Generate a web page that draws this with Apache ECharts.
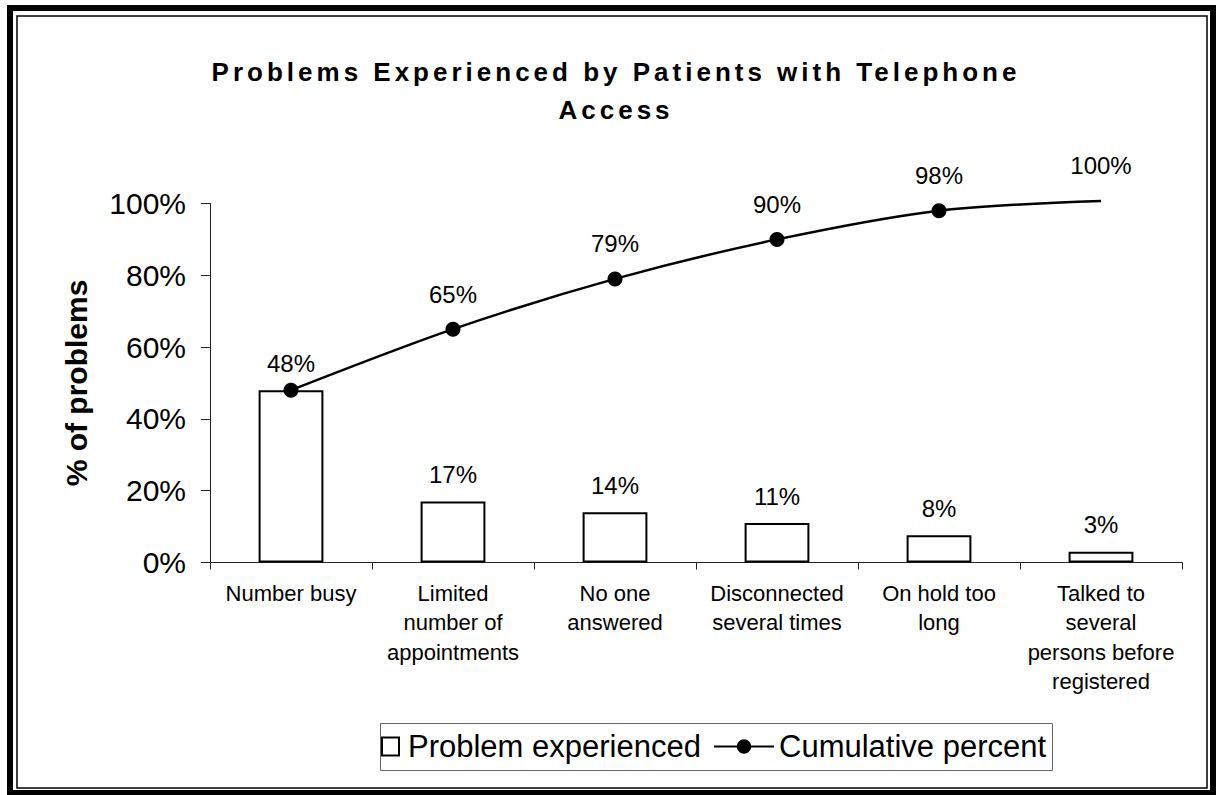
<!DOCTYPE html>
<html>
<head>
<meta charset="utf-8">
<script src="https://cdn.jsdelivr.net/npm/echarts@6/dist/echarts.min.js"></script>
<style>
html,body{margin:0;padding:0;background:#fff;}
#chart{width:1217px;height:795px;}
</style>
</head>
<body>
<div id="chart"></div>
<script>
const titleLines = ['Problems Experienced by Patients with Telephone', 'Access'];
const categories = ['Number busy', 'Limited\nnumber of\nappointments', 'No one\nanswered', 'Disconnected\nseveral times', 'On hold too\nlong', 'Talked to\nseveral\npersons before\nregistered'];
const problemValues = [48, 17, 14, 11, 7.6, 3];
const problemLabels = ['48%', '17%', '14%', '11%', '8%', '3%'];
const cumulativeValues = [48, 65, 79, 90, 98, 100.7];
const cumulativeLabels = ['48%', '65%', '79%', '90%', '98%', '100%'];
const yTicks = [0, 20, 40, 60, 80, 100];
const seriesNames = ['Problem experienced', 'Cumulative percent'];

const FONT = "'Liberation Sans', Arial, sans-serif";
const chart = echarts.init(document.getElementById('chart'), null, {renderer: 'svg'});

const lineData = cumulativeValues.map((v, i) => {
  const item = {value: v};
  if (i === 0) item.label = {show: false};
  if (i === cumulativeValues.length - 1) { item.symbolSize = 0; item.label = {distance: 23}; }
  return item;
});

const option = {
  animation: false,
  backgroundColor: '#fff',
  title: {
    text: titleLines.join('\n'),
    left: 616,
    textAlign: 'center',
    top: 53,
    padding: 0,
    textStyle: {fontFamily: FONT, fontSize: 26, fontWeight: 'bold', color: '#000', lineHeight: 38}
  },
  graphic: [
    {type: 'rect', shape: {x: 10, y: 8, width: 1203, height: 785}, style: {fill: null, stroke: '#000', lineWidth: 6}, silent: true},
    {type: 'rect', shape: {x: 17, y: 16, width: 1190, height: 772}, style: {fill: null, stroke: '#000', lineWidth: 1.5}, silent: true},
    {type: 'rect', shape: {x: 380.5, y: 723.5, width: 672, height: 47}, style: {fill: null, stroke: '#666', lineWidth: 1}, silent: true}
  ],
  legend: [
    {
      data: [{name: seriesNames[0], icon: 'rect'}],
      left: 381, top: 731,
      itemWidth: 17, itemHeight: 18, padding: 0,
      textStyle: {fontFamily: FONT, fontSize: 31, color: '#000', padding: [0, 0, 0, 4]}
    },
    {
      data: [seriesNames[1]],
      left: 713, top: 731,
      itemWidth: 60, itemHeight: 18, padding: 0,
      textStyle: {fontFamily: FONT, fontSize: 31, color: '#000'}
    }
  ],
  grid: {left: 210, right: 35, top: 203.5, bottom: 232.5, containLabel: false},
  xAxis: {
    type: 'category',
    data: categories,
    axisLine: {lineStyle: {color: '#222', width: 1}},
    axisTick: {show: true, length: 7, lineStyle: {color: '#222'}},
    axisLabel: {interval: 0, margin: 16, fontFamily: FONT, fontSize: 22, lineHeight: 29.5, color: '#000'}
  },
  yAxis: {
    type: 'value',
    min: 0, max: 100, interval: 20,
    name: '% of problems',
    nameLocation: 'middle',
    nameRotate: 90,
    nameGap: 119,
    nameTextStyle: {fontFamily: FONT, fontSize: 30, fontWeight: 'bold', color: '#000'},
    axisLine: {show: true, lineStyle: {color: '#222', width: 1}},
    axisTick: {show: true, length: 9, lineStyle: {color: '#222'}},
    splitLine: {show: false},
    axisLabel: {margin: 24, fontFamily: FONT, fontSize: 30, color: '#000', formatter: v => yTicks.includes(v) ? v + '%' : ''}
  },
  series: [
    {
      name: seriesNames[0],
      type: 'bar',
      data: problemValues,
      barWidth: '40%',
      itemStyle: {color: '#fff', borderColor: '#000', borderWidth: 2},
      label: {show: true, position: 'top', distance: 15, fontFamily: FONT, fontSize: 24, color: '#000',
        formatter: p => problemLabels[p.dataIndex]}
    },
    {
      name: seriesNames[1],
      type: 'line',
      data: lineData,
      smooth: 0.3,
      clip: false,
      symbol: 'circle',
      symbolSize: 15,
      itemStyle: {color: '#000'},
      lineStyle: {color: '#000', width: 2.5},
      label: {show: true, position: 'top', distance: 15.5, fontFamily: FONT, fontSize: 24, color: '#000',
        formatter: p => cumulativeLabels[p.dataIndex]}
    }
  ]
};
chart.setOption(option);

function applySpacing() {
  chart.getDom().querySelectorAll('text').forEach(t => {
    if (titleLines.includes(t.textContent.trim())) t.style.letterSpacing = '4px';
  });
}
applySpacing();
chart.on('finished', applySpacing);
setTimeout(applySpacing, 50);
</script>
</body>
</html>
